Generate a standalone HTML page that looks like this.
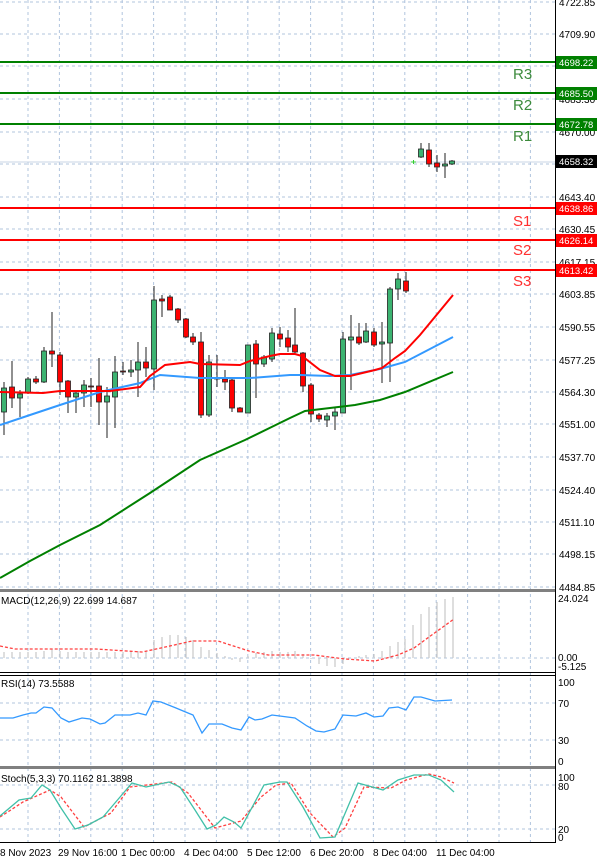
<!DOCTYPE html>
<html><head><meta charset="utf-8"><style>
html,body{margin:0;padding:0;background:#fff}
svg{display:block}
text{font-family:"Liberation Sans",sans-serif;font-size:10px;fill:#000}
</style></head><body>
<svg width="600" height="862" viewBox="0 0 600 862" xmlns="http://www.w3.org/2000/svg">
<rect width="600" height="862" fill="#fff"/>
<!-- vertical grid -->
<g stroke="#b0c4de" stroke-dasharray="3,3" stroke-width="1">
<line x1="28" y1="0" x2="28" y2="842"/><line x1="59.4" y1="0" x2="59.4" y2="842"/><line x1="90.8" y1="0" x2="90.8" y2="842"/><line x1="122.2" y1="0" x2="122.2" y2="842"/><line x1="153.6" y1="0" x2="153.6" y2="842"/><line x1="185" y1="0" x2="185" y2="842"/><line x1="216.4" y1="0" x2="216.4" y2="842"/><line x1="247.8" y1="0" x2="247.8" y2="842"/><line x1="279.2" y1="0" x2="279.2" y2="842"/><line x1="310.6" y1="0" x2="310.6" y2="842"/><line x1="342" y1="0" x2="342" y2="842"/><line x1="373.4" y1="0" x2="373.4" y2="842"/><line x1="404.8" y1="0" x2="404.8" y2="842"/><line x1="436.2" y1="0" x2="436.2" y2="842"/><line x1="467.6" y1="0" x2="467.6" y2="842"/><line x1="499" y1="0" x2="499" y2="842"/><line x1="530.4" y1="0" x2="530.4" y2="842"/>
</g>
<!-- horizontal grid main -->
<g stroke="#b0c4de" stroke-dasharray="3,3">
<line x1="0" y1="2" x2="555" y2="2"/><line x1="0" y1="34" x2="555" y2="34"/><line x1="0" y1="66" x2="555" y2="66"/><line x1="0" y1="99" x2="555" y2="99"/><line x1="0" y1="132" x2="555" y2="132"/><line x1="0" y1="164" x2="555" y2="164"/><line x1="0" y1="197" x2="555" y2="197"/><line x1="0" y1="229" x2="555" y2="229"/><line x1="0" y1="262" x2="555" y2="262"/><line x1="0" y1="294" x2="555" y2="294"/><line x1="0" y1="327" x2="555" y2="327"/><line x1="0" y1="360" x2="555" y2="360"/><line x1="0" y1="392" x2="555" y2="392"/><line x1="0" y1="424" x2="555" y2="424"/><line x1="0" y1="457" x2="555" y2="457"/><line x1="0" y1="490" x2="555" y2="490"/><line x1="0" y1="522" x2="555" y2="522"/><line x1="0" y1="554" x2="555" y2="554"/><line x1="0" y1="587" x2="555" y2="587"/>
<line x1="0" y1="658" x2="555" y2="658"/>
<line x1="0" y1="703" x2="555" y2="703"/><line x1="0" y1="740" x2="555" y2="740"/>
<line x1="0" y1="785" x2="555" y2="785"/><line x1="0" y1="829" x2="555" y2="829"/>
</g>
<!-- main price axis labels -->
<g font-size="9.5">
<text x="559" y="6">4722.85</text><text x="559" y="38">4709.90</text><text x="559" y="103">4683.30</text><text x="559" y="136">4670.00</text><text x="559" y="201">4643.40</text><text x="559" y="233">4630.45</text><text x="559" y="266">4617.15</text><text x="559" y="298">4603.85</text><text x="559" y="331">4590.55</text><text x="559" y="364">4577.25</text><text x="559" y="396">4564.30</text><text x="559" y="428">4551.00</text><text x="559" y="461">4537.70</text><text x="559" y="494">4524.40</text><text x="559" y="526">4511.10</text><text x="559" y="558">4498.15</text><text x="559" y="591">4484.85</text>
</g>
<!-- current price line -->
<line x1="0" y1="162" x2="555" y2="162" stroke="#c8d4e4" stroke-width="1"/>
<!-- levels -->
<g stroke-width="2">
<line x1="0" y1="62" x2="555" y2="62" stroke="#008000"/><line x1="0" y1="93" x2="555" y2="93" stroke="#008000"/><line x1="0" y1="124" x2="555" y2="124" stroke="#008000"/>
<line x1="0" y1="208" x2="555" y2="208" stroke="#ff0000"/><line x1="0" y1="240" x2="555" y2="240" stroke="#ff0000"/><line x1="0" y1="270" x2="555" y2="270" stroke="#ff0000"/>
</g>
<g font-size="15">
<text x="513" y="79" style="fill:#3c8a3c;font-size:15px">R3</text><text x="513" y="110" style="fill:#3c8a3c;font-size:15px">R2</text><text x="513" y="141" style="fill:#3c8a3c;font-size:15px">R1</text>
<text x="513" y="226" style="fill:#ff3030;font-size:15px">S1</text><text x="513" y="255" style="fill:#ff3030;font-size:15px">S2</text><text x="513" y="286" style="fill:#ff3030;font-size:15px">S3</text>
</g>
<g>
<rect x="556" y="56" width="41" height="13" fill="#008000"/><text x="559" y="66" style="fill:#fff;font-size:9.5px">4698.22</text>
<rect x="556" y="87" width="41" height="13" fill="#008000"/><text x="559" y="97" style="fill:#fff;font-size:9.5px">4685.50</text>
<rect x="556" y="118" width="41" height="13" fill="#008000"/><text x="559" y="128" style="fill:#fff;font-size:9.5px">4672.78</text>
<rect x="556" y="155" width="41" height="13" fill="#000"/><text x="559" y="165" style="fill:#fff;font-size:9.5px">4658.32</text>
<rect x="556" y="202" width="41" height="13" fill="#ff0000"/><text x="559" y="212" style="fill:#fff;font-size:9.5px">4638.86</text>
<rect x="556" y="234" width="41" height="13" fill="#ff0000"/><text x="559" y="244" style="fill:#fff;font-size:9.5px">4626.14</text>
<rect x="556" y="264" width="41" height="13" fill="#ff0000"/><text x="559" y="274" style="fill:#fff;font-size:9.5px">4613.42</text>
</g>
<!-- wicks -->
<g stroke="#222" stroke-width="1">
<line x1="4" y1="382" x2="4" y2="435"/><line x1="12" y1="361" x2="12" y2="408"/><line x1="20" y1="390" x2="20" y2="417"/><line x1="28" y1="377" x2="28" y2="394"/><line x1="36" y1="376" x2="36" y2="384"/><line x1="44" y1="347" x2="44" y2="383"/><line x1="52" y1="312" x2="52" y2="367"/><line x1="60" y1="352" x2="60" y2="395"/><line x1="68" y1="380" x2="68" y2="413"/><line x1="76" y1="390" x2="76" y2="413"/><line x1="84" y1="380" x2="84" y2="407"/><line x1="91" y1="378" x2="91" y2="407"/><line x1="99" y1="358" x2="99" y2="425"/><line x1="107" y1="387" x2="107" y2="438"/><line x1="115" y1="356" x2="115" y2="428"/><line x1="123" y1="362" x2="123" y2="375"/><line x1="131" y1="360" x2="131" y2="377"/><line x1="138" y1="342" x2="138" y2="397"/><line x1="146" y1="347" x2="146" y2="377"/><line x1="154" y1="286" x2="154" y2="390"/><line x1="162" y1="295" x2="162" y2="317"/><line x1="170" y1="295" x2="170" y2="310"/><line x1="178" y1="308" x2="178" y2="323"/><line x1="186" y1="318" x2="186" y2="338"/><line x1="193" y1="333" x2="193" y2="345"/><line x1="201" y1="332" x2="201" y2="418"/><line x1="209" y1="355" x2="209" y2="417"/><line x1="217" y1="355" x2="217" y2="387"/><line x1="225" y1="370" x2="225" y2="390"/><line x1="232" y1="378" x2="232" y2="412"/><line x1="240" y1="407" x2="240" y2="412"/><line x1="248" y1="345" x2="248" y2="413"/><line x1="256" y1="340" x2="256" y2="398"/><line x1="264" y1="355" x2="264" y2="367"/><line x1="272" y1="328" x2="272" y2="362"/><line x1="280" y1="327" x2="280" y2="347"/><line x1="288" y1="330" x2="288" y2="352"/><line x1="295" y1="308" x2="295" y2="353"/><line x1="303" y1="352" x2="303" y2="392"/><line x1="311" y1="383" x2="311" y2="422"/><line x1="319" y1="413" x2="319" y2="422"/><line x1="327" y1="413" x2="327" y2="427"/><line x1="335" y1="408" x2="335" y2="430"/><line x1="343" y1="332" x2="343" y2="413"/><line x1="351" y1="315" x2="351" y2="390"/><line x1="359" y1="323" x2="359" y2="345"/><line x1="366" y1="323" x2="366" y2="343"/><line x1="374" y1="328" x2="374" y2="347"/><line x1="382" y1="322" x2="382" y2="383"/><line x1="390" y1="287" x2="390" y2="382"/><line x1="398" y1="273" x2="398" y2="300"/><line x1="406" y1="272" x2="406" y2="293"/>
<line x1="421" y1="143" x2="421" y2="158"/><line x1="429" y1="143" x2="429" y2="167"/><line x1="437" y1="155" x2="437" y2="172"/><line x1="445" y1="153" x2="445" y2="178"/><line x1="452" y1="160" x2="452" y2="165"/>
</g>
<line x1="411" y1="162" x2="416" y2="162" stroke="#33cc33"/><line x1="413.5" y1="160" x2="413.5" y2="164" stroke="#33cc33"/>
<!-- green bodies -->
<g fill="#3cb371" stroke="#222" stroke-width="0.8">
<rect x="1.5" y="388" width="5" height="24"/><rect x="17.5" y="394" width="5" height="4"/><rect x="25.5" y="379" width="5" height="14"/><rect x="41.5" y="351" width="5" height="31"/><rect x="73.5" y="393" width="5" height="4"/><rect x="81.5" y="385" width="5" height="8"/><rect x="104.5" y="396" width="5" height="6"/><rect x="112.5" y="372" width="5" height="25"/><rect x="128.5" y="370" width="5" height="2"/><rect x="135.5" y="362" width="5" height="8"/><rect x="151.5" y="300" width="5" height="69"/><rect x="206.5" y="362" width="5" height="53"/><rect x="245.5" y="345" width="5" height="68"/><rect x="261.5" y="357" width="5" height="7"/><rect x="269.5" y="333" width="5" height="26"/><rect x="324.5" y="416" width="5" height="4"/><rect x="332.5" y="412" width="5" height="4"/><rect x="340.5" y="339" width="5" height="74"/><rect x="348.5" y="337" width="5" height="3"/><rect x="363.5" y="331" width="5" height="11"/><rect x="379.5" y="342" width="5" height="2"/><rect x="387.5" y="289" width="5" height="54"/><rect x="395.5" y="279" width="5" height="10"/>
<rect x="418.5" y="149" width="5" height="8"/><rect x="442.5" y="164" width="5" height="2"/><rect x="449.5" y="161" width="5" height="3"/>
</g>
<!-- red bodies -->
<g fill="#ff0000" stroke="#222" stroke-width="0.8">
<rect x="9.5" y="387" width="5" height="11"/><rect x="33.5" y="379" width="5" height="3"/><rect x="49.5" y="351" width="5" height="3"/><rect x="57.5" y="355" width="5" height="27"/><rect x="65.5" y="381" width="5" height="16"/><rect x="88.5" y="386" width="5" height="1"/><rect x="96.5" y="386" width="5" height="16"/><rect x="120.5" y="371" width="5" height="1"/><rect x="143.5" y="362" width="5" height="6"/><rect x="159.5" y="299" width="5" height="2"/><rect x="167.5" y="297" width="5" height="13"/><rect x="175.5" y="309" width="5" height="11"/><rect x="183.5" y="319" width="5" height="18"/><rect x="190.5" y="337" width="5" height="5"/><rect x="198.5" y="342" width="5" height="73"/><rect x="214.5" y="378" width="5" height="1"/><rect x="222.5" y="379" width="5" height="3"/><rect x="229.5" y="380" width="5" height="28"/><rect x="237.5" y="408" width="5" height="4"/><rect x="253.5" y="344" width="5" height="20"/><rect x="277.5" y="334" width="5" height="5"/><rect x="285.5" y="338" width="5" height="9"/><rect x="292.5" y="345" width="5" height="7"/><rect x="300.5" y="353" width="5" height="33"/><rect x="308.5" y="385" width="5" height="29"/><rect x="316.5" y="415" width="5" height="4"/><rect x="356.5" y="337" width="5" height="6"/><rect x="371.5" y="332" width="5" height="13"/><rect x="403.5" y="281" width="5" height="10"/>
<rect x="426.5" y="150" width="5" height="14"/><rect x="434.5" y="163" width="5" height="4"/>
</g>
<!-- MAs -->
<polyline fill="none" stroke="#008000" stroke-width="2" points="0,578 30,561 60,545 100,525 150,493 200,460 245,440 290,418 305,411 330,408 355,405 380,400 405,392 453,372"/>
<polyline fill="none" stroke="#3399ff" stroke-width="2" points="0,425 30,415 60,405 100,392 140,383 160,375 200,378 250,378 290,375 300,375 330,376 350,375 380,369 405,362 453,337"/>
<polyline fill="none" stroke="#ff0000" stroke-width="2" points="0,392 43,393 60,391 110,391 140,387 150,376 165,365 190,362 200,364 240,365 250,361 270,356 280,354 295,354 302,356 320,370 335,376 350,376 375,370 382,368 395,358 405,351 420,335 453,295"/>
<!-- separators -->
<rect x="0" y="589" width="555" height="3" fill="#808080"/>
<line x1="0" y1="672.5" x2="555" y2="672.5" stroke="#000"/>
<line x1="0" y1="675.5" x2="555" y2="675.5" stroke="#000"/>
<rect x="0" y="766" width="555" height="3" fill="#808080"/>
<line x1="0" y1="842.5" x2="555" y2="842.5" stroke="#000"/>
<line x1="555.5" y1="0" x2="555.5" y2="843" stroke="#000"/>
<!-- MACD histogram -->
<g stroke="#c8c8c8" stroke-width="1.2">
<line x1="4" y1="658" x2="4" y2="652"/><line x1="12" y1="658" x2="12" y2="652"/><line x1="20" y1="658" x2="20" y2="652"/><line x1="28" y1="658" x2="28" y2="652"/><line x1="36" y1="658" x2="36" y2="652"/><line x1="44" y1="658" x2="44" y2="651"/><line x1="52" y1="658" x2="52" y2="649"/><line x1="60" y1="658" x2="60" y2="651"/><line x1="68" y1="658" x2="68" y2="652"/><line x1="76" y1="658" x2="76" y2="652"/><line x1="84" y1="658" x2="84" y2="652"/><line x1="91" y1="658" x2="91" y2="652"/><line x1="99" y1="658" x2="99" y2="652"/><line x1="107" y1="658" x2="107" y2="652"/><line x1="115" y1="658" x2="115" y2="652"/><line x1="123" y1="658" x2="123" y2="652"/><line x1="131" y1="658" x2="131" y2="651"/><line x1="138" y1="658" x2="138" y2="651"/><line x1="146" y1="658" x2="146" y2="651"/><line x1="154" y1="658" x2="154" y2="640"/><line x1="162" y1="658" x2="162" y2="637"/><line x1="170" y1="658" x2="170" y2="635"/><line x1="178" y1="658" x2="178" y2="635"/><line x1="186" y1="658" x2="186" y2="637"/><line x1="193" y1="658" x2="193" y2="640"/><line x1="201" y1="658" x2="201" y2="647"/><line x1="209" y1="658" x2="209" y2="650"/><line x1="217" y1="658" x2="217" y2="653"/><line x1="225" y1="658" x2="225" y2="656"/><line x1="232" y1="658" x2="232" y2="660"/><line x1="240" y1="658" x2="240" y2="662"/><line x1="248" y1="658" x2="248" y2="656"/><line x1="256" y1="658" x2="256" y2="653"/><line x1="264" y1="658" x2="264" y2="652"/><line x1="272" y1="658" x2="272" y2="651"/><line x1="280" y1="658" x2="280" y2="652"/><line x1="288" y1="658" x2="288" y2="652"/><line x1="295" y1="658" x2="295" y2="651"/><line x1="303" y1="658" x2="303" y2="654"/><line x1="311" y1="658" x2="311" y2="659"/><line x1="319" y1="658" x2="319" y2="664"/><line x1="327" y1="658" x2="327" y2="666"/><line x1="335" y1="658" x2="335" y2="667"/><line x1="343" y1="658" x2="343" y2="664"/><line x1="351" y1="658" x2="351" y2="658"/><line x1="359" y1="658" x2="359" y2="656"/><line x1="366" y1="658" x2="366" y2="655"/><line x1="374" y1="658" x2="374" y2="654"/><line x1="382" y1="658" x2="382" y2="651"/><line x1="390" y1="658" x2="390" y2="646"/><line x1="398" y1="658" x2="398" y2="642"/><line x1="405" y1="658" x2="405" y2="639"/><line x1="413" y1="658" x2="413" y2="625"/><line x1="421" y1="658" x2="421" y2="614"/><line x1="429" y1="658" x2="429" y2="607"/><line x1="437" y1="658" x2="437" y2="602"/><line x1="445" y1="658" x2="445" y2="599"/><line x1="453" y1="658" x2="453" y2="597"/>
</g>
<polyline fill="none" stroke="#ff4040" stroke-width="1.3" stroke-dasharray="3,2" points="0,646 15,649 50,649 96,649 142,652 161,648 192,641 218,641 249,651 268,655 314,655 345,659 375,661 398,655 414,648 429,637 454,619"/>
<text x="1" y="604">MACD(12,26,9) 22.699 14.687</text>
<text x="558" y="602">24.024</text><text x="558" y="661">0.00</text><text x="558" y="670">-5.125</text>
<!-- RSI -->
<polyline fill="none" stroke="#3399ff" stroke-width="1.3" points="0,718 13,718 23,715 31,713 36,713 44,707 52,708 61,718 69,722 82,718 90,719 100,724 105,723 115,715 130,715 138,713 146,715 153,701 161,702 176,708 188,713 193,715 202,733 209,724 222,724 232,728 241,730 249,717 255,720 262,719 272,715 295,718 307,726 316,731 324,732 335,729 343,715 356,716 366,713 374,717 383,716 389,708 398,707 406,710 414,697 421,697 435,701 452,700"/>
<text x="1" y="687">RSI(14) 73.5588</text>
<text x="558" y="686">100</text><text x="558" y="707">70</text><text x="558" y="744">30</text><text x="558" y="765">0</text>
<!-- Stoch -->
<polyline fill="none" stroke="#ff4040" stroke-width="1.3" stroke-dasharray="3,2" points="0,817 23,802 50,790 61,797 84,827 111,813 130,787 172,782 188,793 215,828 241,821 261,797 276,785 291,783 310,813 333,837 345,828 364,787 391,788 406,780 429,774 441,777 454,783"/>
<polyline fill="none" stroke="#40c0a8" stroke-width="1.3" points="0,816 19,800 31,798 42,785 50,790 61,808 75,829 88,825 103,817 126,790 132,783 146,787 169,782 180,787 195,810 207,829 216,825 224,817 234,822 241,828 264,785 280,782 287,782 303,807 320,838 335,837 358,783 383,790 398,780 414,775 429,775 441,780 454,792"/>
<text x="1" y="782">Stoch(5,3,3) 70.1162 81.3898</text>
<text x="558" y="781">100</text><text x="558" y="790">80</text><text x="558" y="833">20</text><text x="558" y="841">0</text>
<!-- dates -->
<text x="0" y="856">8 Nov 2023</text><text x="58" y="856">29 Nov 16:00</text><text x="121" y="856">1 Dec 00:00</text><text x="184" y="856">4 Dec 04:00</text><text x="247" y="856">5 Dec 12:00</text><text x="310" y="856">6 Dec 20:00</text><text x="373" y="856">8 Dec 04:00</text><text x="436" y="856">11 Dec 04:00</text>
</svg>
</body></html>
